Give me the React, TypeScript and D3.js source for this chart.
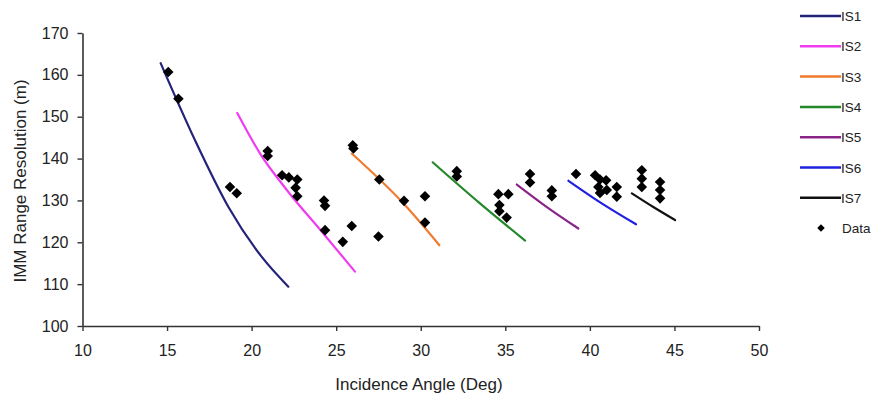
import React, { useEffect, useRef } from 'react';
import * as d3 from 'd3';

// model curves per incidence swath, [angle, resolution]
const seriesNames = ['IS1', 'IS2', 'IS3', 'IS4', 'IS5', 'IS6', 'IS7'];
const seriesColors = ['#23237a', '#f03cf0', '#f07a2e', '#22882a', '#8a2488', '#2020e0', '#111111'];
const is1 = [[14.62, 162.8], [16.65, 144.4], [18.62, 128.5], [20.6, 116.5], [22.17, 109.4]];
const is2 = [[19.15, 150.9], [20.5, 141.2], [22.08, 132.5], [24.24, 122.1], [26.11, 113.0]];
const is3 = [[25.92, 141.2], [28.97, 129.3], [31.1, 119.3]];
const is4 = [[30.71, 139.1], [33.5, 129.3], [36.17, 120.4]];
const is5 = [[35.68, 133.8], [37.5, 128.3], [39.32, 123.3]];
const is6 = [[38.73, 134.7], [40.7, 129.3], [42.73, 124.3]];
const is7 = [[42.48, 131.7], [43.8, 128.3], [45.04, 125.3]];
const curves = [is1, is2, is3, is4, is5, is6, is7];

// measured points
const dataPoints = [
  [15.07, 160.7], [15.67, 154.3], [18.72, 133.2], [19.12, 131.7],
  [20.95, 141.8], [20.95, 140.6], [21.8, 136.0], [22.2, 135.5], [22.7, 135.0], [22.6, 133.0], [22.7, 131.0],
  [24.28, 130.0], [24.34, 128.7], [24.34, 122.9], [25.39, 120.1], [25.92, 123.9],
  [25.98, 143.2], [26.02, 142.4], [27.5, 121.4], [27.55, 135.0],
  [29.01, 129.9], [30.25, 131.0], [30.25, 124.7],
  [32.13, 137.0], [32.13, 135.7], [34.59, 131.5], [35.18, 131.5], [34.65, 128.9], [34.65, 127.4], [35.08, 125.9],
  [36.46, 136.3], [36.46, 134.3], [37.75, 132.4], [37.75, 131.0],
  [39.18, 136.3], [40.31, 136.0], [40.6, 135.0], [40.96, 134.8], [40.5, 133.2], [41.0, 132.5], [40.6, 131.8],
  [41.59, 133.2], [41.59, 130.9],
  [43.07, 137.2], [43.07, 135.2], [43.07, 133.2], [44.15, 134.4], [44.15, 132.5], [44.15, 130.5],
];

const xTicks = [10, 15, 20, 25, 30, 35, 40, 45, 50];
const yTicks = [100, 110, 120, 130, 140, 150, 160, 170];

const App: React.FC = () => {
  const svgRef = useRef<SVGSVGElement>(null);

  useEffect(() => {
    if (!svgRef.current) return;
    const svg = d3.select(svgRef.current);
    svg.selectAll('*').remove();

    const font = '"Liberation Sans", Arial, sans-serif';
    const axisColor = '#333';

    const x = d3.scaleLinear().domain([10, 50]).range([82.5, 759]);
    const y = d3.scaleLinear().domain([100, 170]).range([326, 33]);

    // Axes
    const xAxis = svg.append('g')
      .attr('transform', `translate(0, ${y(100)})`)
      .call(d3.axisBottom(x).tickValues(xTicks).tickSize(5).tickPadding(14).tickSizeOuter(0));
    const yAxis = svg.append('g')
      .attr('transform', `translate(${x(10)}, 0)`)
      .call(d3.axisLeft(y).tickValues(yTicks).tickSize(5).tickPadding(9).tickSizeOuter(0));

    [xAxis, yAxis].forEach(a => {
      a.select('.domain').attr('stroke', axisColor).attr('stroke-width', 1.6);
      a.selectAll('.tick line').attr('stroke', axisColor).attr('stroke-width', 1.4);
      a.selectAll('.tick text')
        .attr('fill', '#222')
        .style('font-family', font)
        .style('font-size', '16px');
    });

    // Curves
    const line = d3.line<number[]>()
      .x(d => x(d[0]))
      .y(d => y(d[1]))
      .curve(d3.curveMonotoneX);

    curves.forEach((c, i) => {
      svg.append('path')
        .datum(c)
        .attr('d', line)
        .attr('fill', 'none')
        .attr('stroke', seriesColors[i])
        .attr('stroke-width', 2.2)
        .attr('stroke-linecap', 'round');
    });

    // Data markers
    const diamond = d3.symbol().type(d3.symbolSquare).size(56);
    svg.selectAll('.pt')
      .data(dataPoints)
      .enter()
      .append('path')
      .attr('class', 'pt')
      .attr('d', diamond)
      .attr('transform', d => `translate(${x(d[0])}, ${y(d[1])}) rotate(45)`)
      .attr('fill', '#000');

    // Axis titles
    svg.append('text')
      .attr('x', 419)
      .attr('y', 390)
      .attr('text-anchor', 'middle')
      .style('font-family', font)
      .style('font-size', '17px')
      .attr('fill', '#222')
      .text('Incidence Angle (Deg)');

    svg.append('text')
      .attr('transform', 'translate(26, 181) rotate(-90)')
      .attr('text-anchor', 'middle')
      .style('font-family', font)
      .style('font-size', '17px')
      .attr('fill', '#222')
      .text('IMM Range Resolution (m)');

    // Legend
    const legend = svg.append('g').attr('transform', 'translate(800, 16)');
    seriesNames.forEach((name, i) => {
      const row = legend.append('g').attr('transform', `translate(0, ${i * 30.3})`);
      row.append('line')
        .attr('x1', 0).attr('x2', 41)
        .attr('y1', 0).attr('y2', 0)
        .attr('stroke', seriesColors[i])
        .attr('stroke-width', 2.5);
      row.append('text')
        .attr('x', 41)
        .attr('y', 5)
        .style('font-family', font)
        .style('font-size', '13.5px')
        .attr('fill', '#222')
        .text(name);
    });
    const dataRow = legend.append('g').attr('transform', `translate(0, ${7 * 30.3})`);
    dataRow.append('path')
      .attr('d', d3.symbol().type(d3.symbolSquare).size(28))
      .attr('transform', 'translate(21, 0) rotate(45)')
      .attr('fill', '#000');
    dataRow.append('text')
      .attr('x', 42)
      .attr('y', 5)
      .style('font-family', font)
      .style('font-size', '13.5px')
      .attr('fill', '#222')
      .text('Data');
  }, []);

  return (
    <svg
      ref={svgRef}
      width={879}
      height={397}
      style={{ position: 'absolute', left: 0, top: 0, background: '#fff' }}
    />
  );
};

export default App;
